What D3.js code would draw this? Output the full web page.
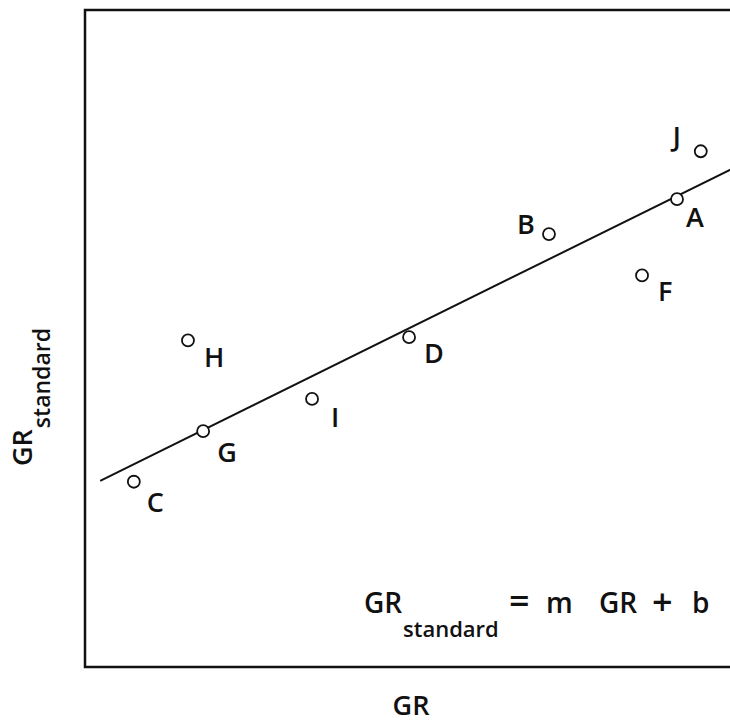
<!DOCTYPE html>
<html><head><meta charset="utf-8">
<script src="https://cdn.jsdelivr.net/npm/d3@7"></script>
<style>
html,body{margin:0;padding:0;background:#fff;}
svg{display:block;}
text{font-family:"Open Sans","DejaVu Sans",sans-serif;fill:#111;font-weight:600;}
</style></head>
<body>
<script>
// ---- data ----
const labels = ["J","A","B","F","H","D","I","G","C"];
const grValues = [93.3, 89.7, 70.3, 84.4, 15.6, 49.1, 34.4, 17.9, 7.4];
const grStandard = [78.5, 71.2, 65.9, 59.6, 49.7, 50.2, 40.8, 35.9, 28.2];
const fitSlope = 0.496;
const fitIntercept = 27.2;
const fitRange = [2.3, 100];
const equationParts = ["GR", "standard", "=", "m", "GR", "+", "b"];

// ---- layout (label offsets in px, relative to point) ----
const labelOffset = {
  J:[-28,-5], A:[9,28], B:[-32,0], F:[16,26], H:[16,27],
  D:[15,26], I:[19,28], G:[14,31], C:[13,30]
};
const eqX = [364, 403, 509, 546, 599, 652, 692];
const eqDy = [0, 24, 1, 0, 0, 2, 0];
const eqSize = [28, 22, 36, 28, 28, 36, 28];
const eqWeight = [600, 600, 400, 600, 600, 400, 600];

const W = 730, H = 722;
const svg = d3.select("body").append("svg").attr("width", W).attr("height", H);

const x = d3.scaleLinear().domain([0,100]).range([85,745]);
const y = d3.scaleLinear().domain([0,100]).range([667,10]);

// frame
svg.append("rect").attr("x",x(0)).attr("y",y(100))
  .attr("width",x(100)-x(0)).attr("height",y(0)-y(100))
  .attr("fill","none").attr("stroke","#111").attr("stroke-width",2.5);

// fit line
const line = d3.line().x(d=>x(d)).y(d=>y(fitSlope*d+fitIntercept));
svg.append("path").datum(fitRange).attr("d",line)
  .attr("fill","none").attr("stroke","#111").attr("stroke-width",2);

const pts = labels.map((l,i)=>({l, gx:grValues[i], gy:grStandard[i]}));

svg.selectAll("circle.pt").data(pts).enter().append("circle")
  .attr("class","pt").attr("cx",d=>x(d.gx)).attr("cy",d=>y(d.gy)).attr("r",6)
  .attr("fill","#fff").attr("stroke","#111").attr("stroke-width",1.8);

svg.selectAll("text.lbl").data(pts).enter().append("text")
  .attr("class","lbl")
  .attr("x",d=>x(d.gx)+labelOffset[d.l][0])
  .attr("y",d=>y(d.gy)+labelOffset[d.l][1])
  .attr("font-size",27).text(d=>d.l);

// x axis label
svg.append("text").attr("x",411).attr("y",715).attr("text-anchor","middle")
  .attr("font-size",27).text("GR");

// y axis label (rotated)
const yl = svg.append("text").attr("transform","translate(32,466) rotate(-90)")
  .attr("font-size",27);
yl.append("tspan").text("GR");
yl.append("tspan").attr("dy",18).attr("dx",1).attr("font-size",23).text("standard");

// equation
svg.selectAll("text.eq").data(equationParts).enter().append("text")
  .attr("class","eq")
  .attr("x",(d,i)=>eqX[i]).attr("y",(d,i)=>613+eqDy[i])
  .attr("font-size",(d,i)=>eqSize[i]).attr("font-weight",(d,i)=>eqWeight[i])
  .text(d=>d);
</script>
</body></html>
